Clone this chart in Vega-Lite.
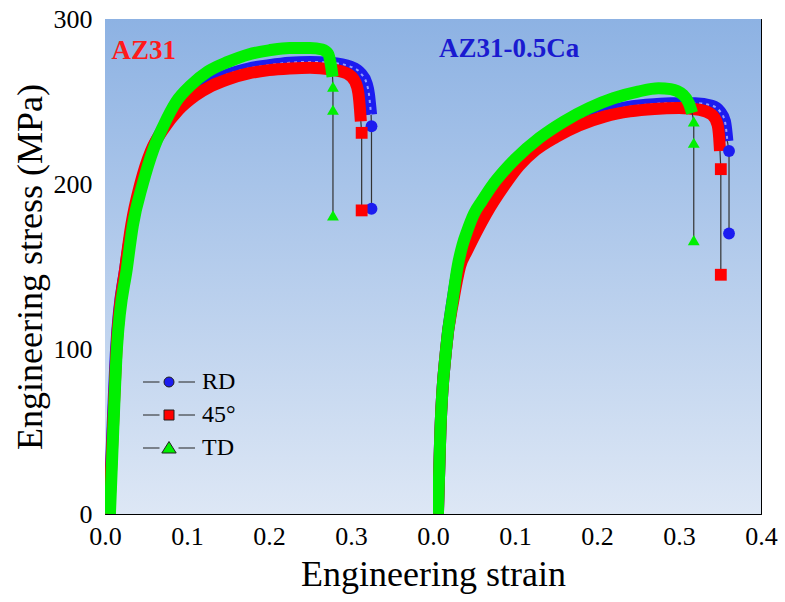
{
  "$schema": "https://vega.github.io/schema/vega-lite/v6.json",
  "background": "white",
  "padding": {"left": 12, "top": 6, "right": 5, "bottom": 5},
  "bounds": "flush",
  "spacing": 0,
  "config": {
    "font": "Liberation Serif",
    "view": {"stroke": null},
    "style": {"guide-label": {"font": "Liberation Serif"}, "guide-title": {"font": "Liberation Serif"}},
    "axis": {
      "grid": false, "domainColor": "black", "domainWidth": 1, "tickColor": "black", "tickWidth": 1, "labelFlush": false,
      "labelFont": "Liberation Serif", "labelFontSize": 26, "labelColor": "black",
      "titleFont": "Liberation Serif", "titleFontWeight": "normal", "titleColor": "black"
    },
    "legend": {"labelFont": "Liberation Serif", "titleFont": "Liberation Serif"}
  },
  "resolve": {"scale": {"color": "independent", "shape": "independent", "x": "independent", "y": "independent"}},
  "datasets": {
    "curves": [
      {"p": "AZ31", "d": "RD", "e": 0.005, "s": 0, "k": "band"},
      {"p": "AZ31", "d": "RD", "e": 0.009, "s": 50, "k": "band"},
      {"p": "AZ31", "d": "RD", "e": 0.0135, "s": 100, "k": "band"},
      {"p": "AZ31", "d": "RD", "e": 0.025, "s": 150, "k": "band"},
      {"p": "AZ31", "d": "RD", "e": 0.033, "s": 175, "k": "band"},
      {"p": "AZ31", "d": "RD", "e": 0.044, "s": 200, "k": "band"},
      {"p": "AZ31", "d": "RD", "e": 0.057, "s": 220, "k": "band"},
      {"p": "AZ31", "d": "RD", "e": 0.072, "s": 235, "k": "band"},
      {"p": "AZ31", "d": "RD", "e": 0.09, "s": 247, "k": "band"},
      {"p": "AZ31", "d": "RD", "e": 0.11, "s": 256, "k": "band"},
      {"p": "AZ31", "d": "RD", "e": 0.13, "s": 262, "k": "band"},
      {"p": "AZ31", "d": "RD", "e": 0.15, "s": 266.5, "k": "band"},
      {"p": "AZ31", "d": "RD", "e": 0.175, "s": 270, "k": "band"},
      {"p": "AZ31", "d": "RD", "e": 0.2, "s": 272, "k": "band"},
      {"p": "AZ31", "d": "RD", "e": 0.225, "s": 273.5, "k": "band"},
      {"p": "AZ31", "d": "RD", "e": 0.25, "s": 274, "k": "band"},
      {"p": "AZ31", "d": "RD", "e": 0.275, "s": 273.5, "k": "band"},
      {"p": "AZ31", "d": "RD", "e": 0.3, "s": 271, "k": "band"},
      {"p": "AZ31", "d": "RD", "e": 0.312, "s": 267, "k": "band"},
      {"p": "AZ31", "d": "RD", "e": 0.319, "s": 261, "k": "band"},
      {"p": "AZ31", "d": "RD", "e": 0.322, "s": 254, "k": "band"},
      {"p": "AZ31", "d": "RD", "e": 0.3235, "s": 247, "k": "band"},
      {"p": "AZ31", "d": "RD", "e": 0.3245, "s": 242, "k": "end"},
      {"p": "AZ31", "d": "RD", "e": 0.325, "s": 235, "k": "drop"},
      {"p": "AZ31", "d": "RD", "e": 0.325, "s": 185, "k": "drop"},

      {"p": "AZ31", "d": "45°", "e": 0.005, "s": 0, "k": "band"},
      {"p": "AZ31", "d": "45°", "e": 0.0095, "s": 50, "k": "band"},
      {"p": "AZ31", "d": "45°", "e": 0.014, "s": 100, "k": "band"},
      {"p": "AZ31", "d": "45°", "e": 0.025, "s": 150, "k": "band"},
      {"p": "AZ31", "d": "45°", "e": 0.032, "s": 175, "k": "band"},
      {"p": "AZ31", "d": "45°", "e": 0.043, "s": 200, "k": "band"},
      {"p": "AZ31", "d": "45°", "e": 0.056, "s": 220, "k": "band"},
      {"p": "AZ31", "d": "45°", "e": 0.071, "s": 233, "k": "band"},
      {"p": "AZ31", "d": "45°", "e": 0.09, "s": 245, "k": "band"},
      {"p": "AZ31", "d": "45°", "e": 0.11, "s": 253.5, "k": "band"},
      {"p": "AZ31", "d": "45°", "e": 0.13, "s": 259.5, "k": "band"},
      {"p": "AZ31", "d": "45°", "e": 0.15, "s": 263.5, "k": "band"},
      {"p": "AZ31", "d": "45°", "e": 0.175, "s": 267, "k": "band"},
      {"p": "AZ31", "d": "45°", "e": 0.2, "s": 269, "k": "band"},
      {"p": "AZ31", "d": "45°", "e": 0.225, "s": 270, "k": "band"},
      {"p": "AZ31", "d": "45°", "e": 0.25, "s": 270.5, "k": "band"},
      {"p": "AZ31", "d": "45°", "e": 0.275, "s": 269.5, "k": "band"},
      {"p": "AZ31", "d": "45°", "e": 0.295, "s": 267, "k": "band"},
      {"p": "AZ31", "d": "45°", "e": 0.305, "s": 262, "k": "band"},
      {"p": "AZ31", "d": "45°", "e": 0.309, "s": 255, "k": "band"},
      {"p": "AZ31", "d": "45°", "e": 0.311, "s": 245, "k": "band"},
      {"p": "AZ31", "d": "45°", "e": 0.312, "s": 238, "k": "end"},
      {"p": "AZ31", "d": "45°", "e": 0.313, "s": 231, "k": "drop"},
      {"p": "AZ31", "d": "45°", "e": 0.313, "s": 184, "k": "drop"},

      {"p": "AZ31", "d": "TD", "e": 0.006, "s": 0, "k": "band"},
      {"p": "AZ31", "d": "TD", "e": 0.01, "s": 50, "k": "band"},
      {"p": "AZ31", "d": "TD", "e": 0.0145, "s": 100, "k": "band"},
      {"p": "AZ31", "d": "TD", "e": 0.027, "s": 150, "k": "band"},
      {"p": "AZ31", "d": "TD", "e": 0.034, "s": 175, "k": "band"},
      {"p": "AZ31", "d": "TD", "e": 0.046, "s": 200, "k": "band"},
      {"p": "AZ31", "d": "TD", "e": 0.059, "s": 221, "k": "band"},
      {"p": "AZ31", "d": "TD", "e": 0.071, "s": 235, "k": "band"},
      {"p": "AZ31", "d": "TD", "e": 0.087, "s": 250, "k": "band"},
      {"p": "AZ31", "d": "TD", "e": 0.105, "s": 260, "k": "band"},
      {"p": "AZ31", "d": "TD", "e": 0.125, "s": 268, "k": "band"},
      {"p": "AZ31", "d": "TD", "e": 0.15, "s": 274, "k": "band"},
      {"p": "AZ31", "d": "TD", "e": 0.175, "s": 278.5, "k": "band"},
      {"p": "AZ31", "d": "TD", "e": 0.2, "s": 281, "k": "band"},
      {"p": "AZ31", "d": "TD", "e": 0.225, "s": 282.5, "k": "band"},
      {"p": "AZ31", "d": "TD", "e": 0.25, "s": 282.5, "k": "band"},
      {"p": "AZ31", "d": "TD", "e": 0.265, "s": 281.5, "k": "band"},
      {"p": "AZ31", "d": "TD", "e": 0.272, "s": 279, "k": "band"},
      {"p": "AZ31", "d": "TD", "e": 0.2755, "s": 272, "k": "band"},
      {"p": "AZ31", "d": "TD", "e": 0.2775, "s": 265, "k": "end"},
      {"p": "AZ31", "d": "TD", "e": 0.278, "s": 259, "k": "drop"},
      {"p": "AZ31", "d": "TD", "e": 0.278, "s": 245, "k": "drop"},
      {"p": "AZ31", "d": "TD", "e": 0.278, "s": 181, "k": "drop"},

      {"p": "AZ31-0.5Ca", "d": "RD", "e": 0.006, "s": 0, "k": "band"},
      {"p": "AZ31-0.5Ca", "d": "RD", "e": 0.009, "s": 50, "k": "band"},
      {"p": "AZ31-0.5Ca", "d": "RD", "e": 0.016, "s": 100, "k": "band"},
      {"p": "AZ31-0.5Ca", "d": "RD", "e": 0.024, "s": 130, "k": "band"},
      {"p": "AZ31-0.5Ca", "d": "RD", "e": 0.031, "s": 150, "k": "band"},
      {"p": "AZ31-0.5Ca", "d": "RD", "e": 0.038, "s": 160, "k": "band"},
      {"p": "AZ31-0.5Ca", "d": "RD", "e": 0.047, "s": 170, "k": "band"},
      {"p": "AZ31-0.5Ca", "d": "RD", "e": 0.058, "s": 180, "k": "band"},
      {"p": "AZ31-0.5Ca", "d": "RD", "e": 0.078, "s": 197, "k": "band"},
      {"p": "AZ31-0.5Ca", "d": "RD", "e": 0.095, "s": 209, "k": "band"},
      {"p": "AZ31-0.5Ca", "d": "RD", "e": 0.115, "s": 220, "k": "band"},
      {"p": "AZ31-0.5Ca", "d": "RD", "e": 0.14, "s": 229, "k": "band"},
      {"p": "AZ31-0.5Ca", "d": "RD", "e": 0.17, "s": 237, "k": "band"},
      {"p": "AZ31-0.5Ca", "d": "RD", "e": 0.2, "s": 242.5, "k": "band"},
      {"p": "AZ31-0.5Ca", "d": "RD", "e": 0.23, "s": 246, "k": "band"},
      {"p": "AZ31-0.5Ca", "d": "RD", "e": 0.26, "s": 248, "k": "band"},
      {"p": "AZ31-0.5Ca", "d": "RD", "e": 0.29, "s": 249, "k": "band"},
      {"p": "AZ31-0.5Ca", "d": "RD", "e": 0.32, "s": 249, "k": "band"},
      {"p": "AZ31-0.5Ca", "d": "RD", "e": 0.34, "s": 247.5, "k": "band"},
      {"p": "AZ31-0.5Ca", "d": "RD", "e": 0.35, "s": 244, "k": "band"},
      {"p": "AZ31-0.5Ca", "d": "RD", "e": 0.356, "s": 238, "k": "band"},
      {"p": "AZ31-0.5Ca", "d": "RD", "e": 0.358, "s": 231, "k": "band"},
      {"p": "AZ31-0.5Ca", "d": "RD", "e": 0.359, "s": 226, "k": "end"},
      {"p": "AZ31-0.5Ca", "d": "RD", "e": 0.361, "s": 220, "k": "drop"},
      {"p": "AZ31-0.5Ca", "d": "RD", "e": 0.361, "s": 170, "k": "drop"},

      {"p": "AZ31-0.5Ca", "d": "45°", "e": 0.006, "s": 0, "k": "band"},
      {"p": "AZ31-0.5Ca", "d": "45°", "e": 0.009, "s": 50, "k": "band"},
      {"p": "AZ31-0.5Ca", "d": "45°", "e": 0.016, "s": 100, "k": "band"},
      {"p": "AZ31-0.5Ca", "d": "45°", "e": 0.025, "s": 130, "k": "band"},
      {"p": "AZ31-0.5Ca", "d": "45°", "e": 0.033, "s": 150, "k": "band"},
      {"p": "AZ31-0.5Ca", "d": "45°", "e": 0.042, "s": 160, "k": "band"},
      {"p": "AZ31-0.5Ca", "d": "45°", "e": 0.052, "s": 170, "k": "band"},
      {"p": "AZ31-0.5Ca", "d": "45°", "e": 0.065, "s": 182, "k": "band"},
      {"p": "AZ31-0.5Ca", "d": "45°", "e": 0.087, "s": 199, "k": "band"},
      {"p": "AZ31-0.5Ca", "d": "45°", "e": 0.105, "s": 211, "k": "band"},
      {"p": "AZ31-0.5Ca", "d": "45°", "e": 0.125, "s": 220.5, "k": "band"},
      {"p": "AZ31-0.5Ca", "d": "45°", "e": 0.15, "s": 228.5, "k": "band"},
      {"p": "AZ31-0.5Ca", "d": "45°", "e": 0.178, "s": 235.5, "k": "band"},
      {"p": "AZ31-0.5Ca", "d": "45°", "e": 0.21, "s": 241, "k": "band"},
      {"p": "AZ31-0.5Ca", "d": "45°", "e": 0.24, "s": 244, "k": "band"},
      {"p": "AZ31-0.5Ca", "d": "45°", "e": 0.27, "s": 245.5, "k": "band"},
      {"p": "AZ31-0.5Ca", "d": "45°", "e": 0.3, "s": 246, "k": "band"},
      {"p": "AZ31-0.5Ca", "d": "45°", "e": 0.325, "s": 245, "k": "band"},
      {"p": "AZ31-0.5Ca", "d": "45°", "e": 0.34, "s": 242, "k": "band"},
      {"p": "AZ31-0.5Ca", "d": "45°", "e": 0.347, "s": 236, "k": "band"},
      {"p": "AZ31-0.5Ca", "d": "45°", "e": 0.349, "s": 228, "k": "band"},
      {"p": "AZ31-0.5Ca", "d": "45°", "e": 0.35, "s": 220, "k": "end"},
      {"p": "AZ31-0.5Ca", "d": "45°", "e": 0.351, "s": 209, "k": "drop"},
      {"p": "AZ31-0.5Ca", "d": "45°", "e": 0.351, "s": 145, "k": "drop"},

      {"p": "AZ31-0.5Ca", "d": "TD", "e": 0.006, "s": 0, "k": "band"},
      {"p": "AZ31-0.5Ca", "d": "TD", "e": 0.009, "s": 50, "k": "band"},
      {"p": "AZ31-0.5Ca", "d": "TD", "e": 0.016, "s": 100, "k": "band"},
      {"p": "AZ31-0.5Ca", "d": "TD", "e": 0.024, "s": 130, "k": "band"},
      {"p": "AZ31-0.5Ca", "d": "TD", "e": 0.03, "s": 150, "k": "band"},
      {"p": "AZ31-0.5Ca", "d": "TD", "e": 0.036, "s": 163, "k": "band"},
      {"p": "AZ31-0.5Ca", "d": "TD", "e": 0.042, "s": 172, "k": "band"},
      {"p": "AZ31-0.5Ca", "d": "TD", "e": 0.05, "s": 182, "k": "band"},
      {"p": "AZ31-0.5Ca", "d": "TD", "e": 0.06, "s": 190, "k": "band"},
      {"p": "AZ31-0.5Ca", "d": "TD", "e": 0.072, "s": 199, "k": "band"},
      {"p": "AZ31-0.5Ca", "d": "TD", "e": 0.085, "s": 207, "k": "band"},
      {"p": "AZ31-0.5Ca", "d": "TD", "e": 0.1, "s": 215, "k": "band"},
      {"p": "AZ31-0.5Ca", "d": "TD", "e": 0.13, "s": 228, "k": "band"},
      {"p": "AZ31-0.5Ca", "d": "TD", "e": 0.16, "s": 238, "k": "band"},
      {"p": "AZ31-0.5Ca", "d": "TD", "e": 0.19, "s": 246, "k": "band"},
      {"p": "AZ31-0.5Ca", "d": "TD", "e": 0.22, "s": 252, "k": "band"},
      {"p": "AZ31-0.5Ca", "d": "TD", "e": 0.25, "s": 256, "k": "band"},
      {"p": "AZ31-0.5Ca", "d": "TD", "e": 0.275, "s": 258, "k": "band"},
      {"p": "AZ31-0.5Ca", "d": "TD", "e": 0.29, "s": 257.5, "k": "band"},
      {"p": "AZ31-0.5Ca", "d": "TD", "e": 0.305, "s": 254, "k": "band"},
      {"p": "AZ31-0.5Ca", "d": "TD", "e": 0.312, "s": 249, "k": "band"},
      {"p": "AZ31-0.5Ca", "d": "TD", "e": 0.316, "s": 243, "k": "end"},
      {"p": "AZ31-0.5Ca", "d": "TD", "e": 0.318, "s": 238, "k": "drop"},
      {"p": "AZ31-0.5Ca", "d": "TD", "e": 0.318, "s": 225, "k": "drop"},
      {"p": "AZ31-0.5Ca", "d": "TD", "e": 0.318, "s": 166, "k": "drop"}
    ]
  },
  "hconcat": [
    {
      "width": 328,
      "height": 495,
      "resolve": {"scale": {"shape": "independent", "color": "independent"}, "axis": {"x": "independent", "y": "independent"}},
      "layer": [
        {
          "data": {"values": [{}]},
          "mark": {"type": "rect", "fill": {"gradient": "linear", "x1": 0, "y1": 0, "x2": 0, "y2": 1, "stops": [{"offset": 0, "color": "#8db2e3"}, {"offset": 1, "color": "#dde7f5"}]}},
          "encoding": {}
        },
        {
          "data": {"name": "curves"},
          "transform": [{"filter": "datum.p == 'AZ31' && datum.d == 'RD' && datum.k != 'drop'"}],
          "mark": {"type": "line", "stroke": "#1c1cf0", "strokeWidth": 12, "interpolate": "monotone", "clip": true},
          "encoding": {
            "x": {"field": "e", "type": "quantitative", "scale": {"domain": [0, 0.4], "nice": false},
              "axis": {"orient": "bottom", "values": [0, 0.05, 0.1, 0.15, 0.2, 0.25, 0.3, 0.35], "format": ".1f",
                "labelExpr": "abs(datum.value*10 - round(datum.value*10)) > 0.01 ? '' : datum.label",
                "tickSize": {"condition": {"test": "abs(datum.value*10 - round(datum.value*10)) > 0.01", "value": -4}, "value": -7},
                "labelPadding": 16, "title": "Engineering strain", "titleFontSize": 36, "titleX": 328, "titleY": 71, "titleAlign": "center", "titleBaseline": "alphabetic"}},
            "y": {"field": "s", "type": "quantitative", "scale": {"domain": [0, 300], "nice": false},
              "axis": {"orient": "left", "values": [0, 50, 100, 150, 200, 250, 300],
                "labelExpr": "datum.value % 100 != 0 ? '' : datum.label",
                "tickSize": {"condition": {"test": "datum.value % 100 != 0", "value": -4}, "value": -7},
                "labelPadding": 20, "title": "Engineering stress (MPa)", "titleFontSize": 36, "titlePadding": 4}}
          }
        },
        {
          "data": {"name": "curves"},
          "transform": [{"filter": "datum.p == 'AZ31' && datum.d == 'RD' && datum.k != 'drop'"}],
          "mark": {"type": "line", "stroke": "#b8c0ff", "strokeWidth": 2, "strokeDash": [3, 4], "opacity": 0.8, "interpolate": "monotone", "clip": true},
          "encoding": {
            "x": {"field": "e", "type": "quantitative", "scale": {"domain": [0, 0.4], "nice": false}, "axis": null},
            "y": {"field": "s", "type": "quantitative", "scale": {"domain": [0, 300], "nice": false}, "axis": null}
          }
        },
        {
          "data": {"name": "curves"},
          "transform": [{"filter": "datum.p == 'AZ31' && datum.d == '45°' && datum.k != 'drop'"}],
          "mark": {"type": "line", "stroke": "#ff0000", "strokeWidth": 12, "interpolate": "monotone", "clip": true},
          "encoding": {
            "x": {"field": "e", "type": "quantitative", "scale": {"domain": [0, 0.4], "nice": false}, "axis": null},
            "y": {"field": "s", "type": "quantitative", "scale": {"domain": [0, 300], "nice": false}, "axis": null}
          }
        },
        {
          "data": {"name": "curves"},
          "transform": [{"filter": "datum.p == 'AZ31' && datum.d == 'TD' && datum.k != 'drop'"}],
          "mark": {"type": "line", "stroke": "#00f000", "strokeWidth": 12, "interpolate": "monotone", "clip": true},
          "encoding": {
            "x": {"field": "e", "type": "quantitative", "scale": {"domain": [0, 0.4], "nice": false}, "axis": null},
            "y": {"field": "s", "type": "quantitative", "scale": {"domain": [0, 300], "nice": false}, "axis": null}
          }
        },
        {
          "data": {"name": "curves"},
          "transform": [{"filter": "datum.p == 'AZ31' && datum.k != 'band'"}],
          "mark": {"type": "line", "stroke": "#333333", "strokeWidth": 1.2},
          "encoding": {
            "x": {"field": "e", "type": "quantitative", "scale": {"domain": [0, 0.4], "nice": false},
              "axis": {"orient": "top", "values": [0, 0.05, 0.1, 0.15, 0.2, 0.25, 0.3, 0.35], "labels": false, "title": null,
                "tickSize": {"condition": {"test": "abs(datum.value*10 - round(datum.value*10)) > 0.01", "value": -4}, "value": -7}}},
            "y": {"field": "s", "type": "quantitative", "scale": {"domain": [0, 300], "nice": false},
              "axis": {"orient": "right", "values": [0, 50, 100, 150, 200, 250, 300], "labels": false, "title": null,
                "tickSize": {"condition": {"test": "datum.value % 100 != 0", "value": -4}, "value": -7}}},
            "detail": {"field": "d"},
            "order": {"field": "s", "sort": "descending"}
          }
        },
        {
          "data": {"name": "curves"},
          "transform": [{"filter": "datum.p == 'AZ31' && datum.k == 'drop'"}],
          "mark": {"type": "point", "filled": true, "opacity": 1, "size": 140},
          "encoding": {
            "x": {"field": "e", "type": "quantitative", "scale": {"domain": [0, 0.4], "nice": false}, "axis": null},
            "y": {"field": "s", "type": "quantitative", "scale": {"domain": [0, 300], "nice": false}, "axis": null},
            "shape": {"field": "d", "type": "nominal", "scale": {"domain": ["RD", "45°", "TD"], "range": ["circle", "square", "triangle-up"]}, "legend": null},
            "color": {"field": "d", "type": "nominal", "scale": {"domain": ["RD", "45°", "TD"], "range": ["#1c1cf0", "#ff0000", "#00f000"]}, "legend": null}
          }
        },
        {
          "data": {"name": "curves"},
          "transform": [{"filter": "false"}],
          "mark": {"type": "point", "filled": true, "opacity": 1},
          "encoding": {
            "shape": {"field": "d", "type": "nominal",
              "scale": {"domain": ["RD", "45°", "TD"], "range": [
                "M-2.6,0H-0.95M0.95,0H2.6M-0.5,0A0.5,0.5,0,1,1,0.5,0A0.5,0.5,0,1,1,-0.5,0Z",
                "M-2.6,0H-0.95M0.95,0H2.6M-0.5,-0.5H0.5V0.5H-0.5Z",
                "M-2.6,0H-0.95M0.95,0H2.6M0,-0.65L0.72,0.5H-0.72Z"]},
              "legend": {"title": null, "orient": "none", "legendX": 52, "legendY": 351, "padding": 0, "symbolSize": 400,
                "labelOffset": 21, "labelFontSize": 24, "labelFont": "Liberation Serif", "labelColor": "black", "rowPadding": 9,
                "symbolStrokeColor": "#222222", "symbolStrokeWidth": 1,
                "encode": {"symbols": {"update": {"stroke": {"value": "#222222"}, "strokeWidth": {"value": 1}}}, "labels": {"update": {"font": {"value": "Liberation Serif"}}}}}},
            "color": {"field": "d", "type": "nominal",
              "scale": {"domain": ["RD", "45°", "TD"], "range": ["#1c1cf0", "#ff0000", "#00f000"]},
              "legend": {"title": null, "orient": "none", "legendX": 52, "legendY": 351, "padding": 0, "symbolSize": 400,
                "labelOffset": 21, "labelFontSize": 24, "labelFont": "Liberation Serif", "labelColor": "black", "rowPadding": 9,
                "symbolStrokeColor": "#222222", "symbolStrokeWidth": 1,
                "encode": {"symbols": {"update": {"stroke": {"value": "#222222"}, "strokeWidth": {"value": 1}}}, "labels": {"update": {"font": {"value": "Liberation Serif"}}}}}}
          }
        },
        {
          "data": {"values": [{"t": "AZ31"}]},
          "mark": {"type": "text", "align": "left", "baseline": "alphabetic", "font": "Liberation Serif", "fontWeight": "bold", "fontSize": 27, "color": "#ff1a1a"},
          "encoding": {
            "x": {"datum": 0.008, "type": "quantitative", "scale": {"domain": [0, 0.4], "nice": false}, "axis": null},
            "y": {"datum": 276, "type": "quantitative", "scale": {"domain": [0, 300], "nice": false}, "axis": null},
            "text": {"field": "t"}
          }
        }
      ]
    },
    {
      "width": 328,
      "height": 495,
      "resolve": {"axis": {"x": "independent", "y": "independent"}},
      "layer": [
        {
          "data": {"values": [{}]},
          "mark": {"type": "rect", "fill": {"gradient": "linear", "x1": 0, "y1": 0, "x2": 0, "y2": 1, "stops": [{"offset": 0, "color": "#8db2e3"}, {"offset": 1, "color": "#dde7f5"}]}},
          "encoding": {}
        },
        {
          "data": {"name": "curves"},
          "transform": [{"filter": "datum.p == 'AZ31-0.5Ca' && datum.d == 'RD' && datum.k != 'drop'"}],
          "mark": {"type": "line", "stroke": "#1c1cf0", "strokeWidth": 12, "interpolate": "monotone", "clip": true},
          "encoding": {
            "x": {"field": "e", "type": "quantitative", "scale": {"domain": [0, 0.4], "nice": false},
              "axis": {"orient": "bottom", "values": [0, 0.05, 0.1, 0.15, 0.2, 0.25, 0.3, 0.35, 0.4], "format": ".1f",
                "labelExpr": "abs(datum.value*10 - round(datum.value*10)) > 0.01 ? '' : datum.label",
                "tickSize": {"condition": {"test": "abs(datum.value*10 - round(datum.value*10)) > 0.01", "value": -4}, "value": -7},
                "labelPadding": 16, "title": null}},
            "y": {"field": "s", "type": "quantitative", "scale": {"domain": [0, 300], "nice": false},
              "axis": {"orient": "left", "values": [0, 50, 100, 150, 200, 250, 300], "labels": false, "title": null,
                "tickSize": {"condition": {"test": "datum.value % 100 != 0", "value": -4}, "value": -7}}}
          }
        },
        {
          "data": {"name": "curves"},
          "transform": [{"filter": "datum.p == 'AZ31-0.5Ca' && datum.d == 'RD' && datum.k != 'drop'"}],
          "mark": {"type": "line", "stroke": "#b8c0ff", "strokeWidth": 2, "strokeDash": [3, 4], "opacity": 0.8, "interpolate": "monotone", "clip": true},
          "encoding": {
            "x": {"field": "e", "type": "quantitative", "scale": {"domain": [0, 0.4], "nice": false}, "axis": null},
            "y": {"field": "s", "type": "quantitative", "scale": {"domain": [0, 300], "nice": false}, "axis": null}
          }
        },
        {
          "data": {"name": "curves"},
          "transform": [{"filter": "datum.p == 'AZ31-0.5Ca' && datum.d == '45°' && datum.k != 'drop'"}],
          "mark": {"type": "line", "stroke": "#ff0000", "strokeWidth": 12, "interpolate": "monotone", "clip": true},
          "encoding": {
            "x": {"field": "e", "type": "quantitative", "scale": {"domain": [0, 0.4], "nice": false}, "axis": null},
            "y": {"field": "s", "type": "quantitative", "scale": {"domain": [0, 300], "nice": false}, "axis": null}
          }
        },
        {
          "data": {"name": "curves"},
          "transform": [{"filter": "datum.p == 'AZ31-0.5Ca' && datum.d == 'TD' && datum.k != 'drop'"}],
          "mark": {"type": "line", "stroke": "#00f000", "strokeWidth": 12, "interpolate": "monotone", "clip": true},
          "encoding": {
            "x": {"field": "e", "type": "quantitative", "scale": {"domain": [0, 0.4], "nice": false}, "axis": null},
            "y": {"field": "s", "type": "quantitative", "scale": {"domain": [0, 300], "nice": false}, "axis": null}
          }
        },
        {
          "data": {"name": "curves"},
          "transform": [{"filter": "datum.p == 'AZ31-0.5Ca' && datum.k != 'band'"}],
          "mark": {"type": "line", "stroke": "#333333", "strokeWidth": 1.2},
          "encoding": {
            "x": {"field": "e", "type": "quantitative", "scale": {"domain": [0, 0.4], "nice": false},
              "axis": {"orient": "top", "values": [0, 0.05, 0.1, 0.15, 0.2, 0.25, 0.3, 0.35, 0.4], "labels": false, "title": null,
                "tickSize": {"condition": {"test": "abs(datum.value*10 - round(datum.value*10)) > 0.01", "value": -4}, "value": -7}}},
            "y": {"field": "s", "type": "quantitative", "scale": {"domain": [0, 300], "nice": false},
              "axis": {"orient": "right", "values": [0, 50, 100, 150, 200, 250, 300], "labels": false, "title": null,
                "tickSize": {"condition": {"test": "datum.value % 100 != 0", "value": -4}, "value": -7}}},
            "detail": {"field": "d"},
            "order": {"field": "s", "sort": "descending"}
          }
        },
        {
          "data": {"name": "curves"},
          "transform": [{"filter": "datum.p == 'AZ31-0.5Ca' && datum.k == 'drop'"}],
          "mark": {"type": "point", "filled": true, "opacity": 1, "size": 140},
          "encoding": {
            "x": {"field": "e", "type": "quantitative", "scale": {"domain": [0, 0.4], "nice": false}, "axis": null},
            "y": {"field": "s", "type": "quantitative", "scale": {"domain": [0, 300], "nice": false}, "axis": null},
            "shape": {"field": "d", "type": "nominal", "scale": {"domain": ["RD", "45°", "TD"], "range": ["circle", "square", "triangle-up"]}, "legend": null},
            "color": {"field": "d", "type": "nominal", "scale": {"domain": ["RD", "45°", "TD"], "range": ["#1c1cf0", "#ff0000", "#00f000"]}, "legend": null}
          }
        },
        {
          "data": {"values": [{"t": "AZ31-0.5Ca"}]},
          "mark": {"type": "text", "align": "left", "baseline": "alphabetic", "font": "Liberation Serif", "fontWeight": "bold", "fontSize": 27, "color": "#1a1ad0"},
          "encoding": {
            "x": {"datum": 0.0073, "type": "quantitative", "scale": {"domain": [0, 0.4], "nice": false}, "axis": null},
            "y": {"datum": 277, "type": "quantitative", "scale": {"domain": [0, 300], "nice": false}, "axis": null},
            "text": {"field": "t"}
          }
        }
      ]
    }
  ]
}
